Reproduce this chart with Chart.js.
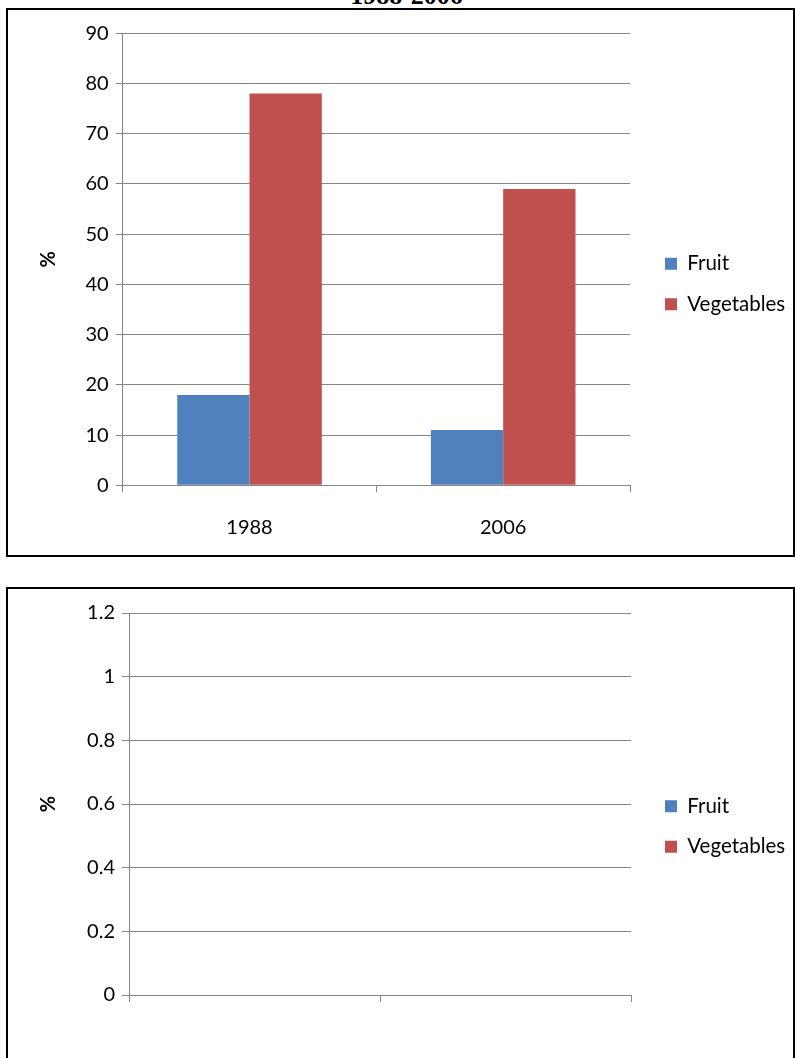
<!DOCTYPE html>
<html>
<head>
<meta charset="utf-8">
<script src="https://cdn.jsdelivr.net/npm/chart.js@4.4.1/dist/chart.umd.min.js"></script>
<style>
  html, body { margin: 0; padding: 0; background: #fff; overflow: hidden; width: 795px; height: 1058px; }
  .caption { position: absolute; left: 0; width: 813px; top: -17px; text-align: center;
             font: bold 26px "Liberation Serif", "Times New Roman", serif; line-height: 26px; color: #000; }
  .panel { position: absolute; left: 6px; width: 785px; border: 2px solid #000; background: #fff; }
  #p1 { top: 8px; height: 545px; }
  #p2 { top: 587px; height: 500px; }
  canvas { display: block; }
</style>
</head>
<body>
<div class="caption">1988-2006</div>
<div class="panel" id="p1"><canvas id="c1" width="785" height="545"></canvas></div>
<div class="panel" id="p2"><canvas id="c2" width="785" height="469"></canvas></div>
<script>
// Share of people eating fruit / vegetables, by survey year
const categories = ['1988', '2006'];
const fruitPct = [18, 11];
const vegetablesPct = [78, 59];
const seriesNames = ['Fruit', 'Vegetables'];
const yTicksMain = [0, 10, 20, 30, 40, 50, 60, 70, 80, 90];

// Second panel: same series, no values entered yet
const emptyCategories = ['', ''];
const emptyFruit = [];
const emptyVegetables = [];
const yTicksEmpty = [0, 0.2, 0.4, 0.6, 0.8, 1, 1.2];

const FONT = 'Lato, "Open Sans", sans-serif';
const FS = 20;           // axis text
const LEGEND_FS = 20.5;  // legend text
const GRID = '#858585';
const seriesColors = ['#4F81BD', '#C0504D'];
const LEGEND_PAD = 20;
const LEGEND_BOX = 12;

// Moves the legend block sideways after layout, leaving a gap next to the plot
const legendNudge = {
  id: 'legendNudge',
  afterLayout(chart, args, opts) {
    const lg = chart.legend;
    if (lg && opts.dx) { lg.left += opts.dx; lg.right += opts.dx; }
  }
};

function legendWidth() {
  const ctx = document.createElement('canvas').getContext('2d');
  ctx.font = LEGEND_FS + 'px ' + FONT;
  const w = Math.max(...seriesNames.map(t => ctx.measureText(t).width));
  return LEGEND_PAD + LEGEND_BOX + LEGEND_FS / 2 + w + 10;
}

function makeChart(canvas, cfg) {
  const W = canvas.width, H = canvas.height;
  const plot = cfg.plot;
  const dx = cfg.legendX - plot.right - LEGEND_PAD;
  const padRight = Math.max(0, W - plot.right - legendWidth());
  const tickFont = { family: FONT, size: FS };

  return new Chart(canvas, {
    type: 'bar',
    plugins: [legendNudge],
    data: {
      labels: cfg.labels,
      datasets: [
        { label: seriesNames[0], data: cfg.series[0], backgroundColor: seriesColors[0], borderWidth: 0 },
        { label: seriesNames[1], data: cfg.series[1], backgroundColor: seriesColors[1], borderWidth: 0 }
      ]
    },
    options: {
      responsive: false,
      animation: false,
      devicePixelRatio: 1,
      categoryPercentage: 0.57,
      barPercentage: 1.0,
      layout: { padding: { top: plot.top, left: 0, right: padRight, bottom: 0 } },
      plugins: {
        title: { display: false },
        tooltip: { enabled: false },
        legendNudge: { dx: dx },
        legend: {
          position: 'right',
          align: 'center',
          fullSize: false,
          title: { display: true, text: '', font: { size: 1, lineHeight: 1 }, padding: { top: 0, bottom: cfg.legendShift - 1 } },
          labels: {
            boxWidth: LEGEND_BOX,
            boxHeight: LEGEND_BOX,
            padding: LEGEND_PAD,
            color: '#000',
            font: { family: FONT, size: LEGEND_FS }
          }
        }
      },
      scales: {
        x: {
          type: 'category',
          offset: true,
          grid: { display: true, drawOnChartArea: false, drawTicks: true, tickLength: 7, color: GRID, offset: true },
          border: { display: true, color: GRID, width: 1 },
          ticks: { font: tickFont, color: '#000', padding: cfg.xLabelPad, maxRotation: 0, autoSkip: false },
          afterFit: s => { s.height = H - plot.bottom; }
        },
        y: {
          type: 'linear',
          position: 'left',
          min: cfg.ticks[0],
          max: cfg.ticks[cfg.ticks.length - 1],
          grid: { color: GRID, tickLength: 7, drawTicks: true },
          border: { display: true, color: GRID, width: 1 },
          ticks: { font: tickFont, color: '#000', padding: cfg.yLabelPad, callback: v => String(v) },
          afterBuildTicks: s => { s.ticks = cfg.ticks.map(v => ({ value: v })); },
          title: {
            display: true, text: '%', color: '#000',
            font: { family: FONT, size: FS, weight: 'bold', lineHeight: 1.2 },
            padding: { top: cfg.titleX - 12, bottom: 0 }
          },
          afterFit: s => { s.width = plot.left; }
        }
      }
    }
  });
}

function draw() {
  makeChart(document.getElementById('c1'), {
    labels: categories,
    series: [fruitPct, vegetablesPct],
    ticks: yTicksMain,
    plot: { left: 114.7, right: 622, top: 23.3, bottom: 475.3 },
    legendX: 657,
    legendShift: 49.4,
    titleX: 41,
    xLabelPad: 23.5,
    yLabelPad: 7
  });
  makeChart(document.getElementById('c2'), {
    labels: emptyCategories,
    series: [emptyFruit, emptyVegetables],
    ticks: yTicksEmpty,
    plot: { left: 121, right: 623, top: 24, bottom: 406 },
    legendX: 657,
    legendShift: 45,
    titleX: 41,
    xLabelPad: 23.5,
    yLabelPad: 7
  });
}

if (document.fonts && document.fonts.load) {
  Promise.all([document.fonts.load(FS + 'px Lato'), document.fonts.load('bold ' + FS + 'px Lato')])
    .then(draw, draw);
} else {
  draw();
}
</script>
</body>
</html>
